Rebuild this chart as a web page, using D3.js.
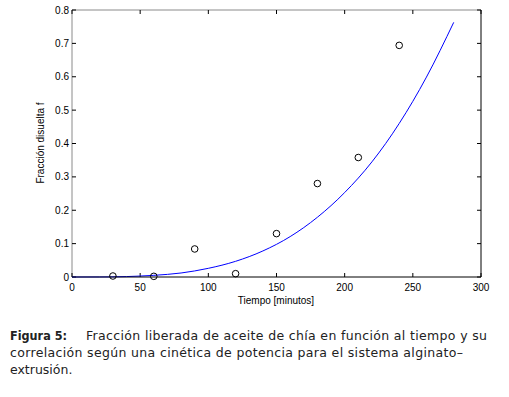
<!DOCTYPE html>
<html>
<head>
<meta charset="utf-8">
<script src="https://cdn.jsdelivr.net/npm/d3@7"></script>
<style>
  body { margin: 0; background: #fff; }
</style>
</head>
<body>
<div id="chart"></div>
<script>
// measured points (tiempo, fraccion)
var tiempo = [30, 60, 90, 120, 150, 180, 210, 240]
var fraccion = [0.003, 0.002, 0.084, 0.010, 0.130, 0.280, 0.358, 0.694]

// fitted curve
var curvaT = [0, 20, 40, 50, 60, 80, 100, 120, 140, 160, 180, 200, 220, 240, 260, 280]
var curvaF = [0, 0.0001, 0.0013, 0.0028, 0.005, 0.012, 0.026, 0.047, 0.078, 0.121, 0.179, 0.253, 0.345, 0.460, 0.599, 0.763]

var xTicks = [0, 50, 100, 150, 200, 250, 300]
var yTicks = [0, 0.1, 0.2, 0.3, 0.4, 0.5, 0.6, 0.7, 0.8]

var width = 509
    height = 397
    margin = {left: 72, right: 28, top: 10, bottom: 120}

var svg = d3.select("#chart")
            .append("svg")
            .attr("width", width)
            .attr("height", height)

var x = d3.scaleLinear().domain([0, 300]).range([margin.left, 481])
var y = d3.scaleLinear().domain([0, 0.8]).range([277, margin.top])

var font = "Liberation Sans, Arial, sans-serif"

// box
svg.append("line").attr("x1", x(0)).attr("x2", x(300)).attr("y1", y(0.8)).attr("y2", y(0.8))
   .attr("stroke", "#8a8a8a")
svg.append("line").attr("x1", x(0)).attr("x2", x(0)).attr("y1", y(0)).attr("y2", y(0.8))
   .attr("stroke", "#8a8a8a")

// ticks inside on all sides
xTicks.forEach(function(t) {
  svg.append("line").attr("x1", x(t)).attr("x2", x(t)).attr("y1", y(0)).attr("y2", y(0) - 4)
     .attr("stroke", "#000")
  svg.append("line").attr("x1", x(t)).attr("x2", x(t)).attr("y1", y(0.8)).attr("y2", y(0.8) + 4)
     .attr("stroke", "#000")
  svg.append("text").attr("x", x(t)).attr("y", y(0) + 14)
     .attr("text-anchor", "middle").attr("font-family", font).attr("font-size", "10px")
     .attr("fill", "#000").text(t)
})
yTicks.forEach(function(t) {
  svg.append("line").attr("x1", x(0)).attr("x2", x(0) + 4).attr("y1", y(t)).attr("y2", y(t))
     .attr("stroke", "#000")
  svg.append("line").attr("x1", x(300)).attr("x2", x(300) - 4).attr("y1", y(t)).attr("y2", y(t))
     .attr("stroke", "#000")
  svg.append("text").attr("x", x(0) - 3).attr("y", y(t) + 3.5)
     .attr("text-anchor", "end").attr("font-family", font).attr("font-size", "10px")
     .attr("fill", "#000").text(t === 0 ? "0" : d3.format(".1f")(t))
})

// curve
var line = d3.line()
             .x(function(d, i) { return x(curvaT[i]) })
             .y(function(d) { return y(d) })
             .curve(d3.curveMonotoneX)

svg.append("path")
   .datum(curvaF)
   .attr("d", line)
   .attr("fill", "none")
   .attr("stroke", "#0000ff")
   .attr("stroke-width", 1)

// bottom / right axis lines (black)
svg.append("line").attr("x1", x(0)).attr("x2", x(300)).attr("y1", y(0)).attr("y2", y(0))
   .attr("stroke", "#000")
svg.append("line").attr("x1", x(300)).attr("x2", x(300)).attr("y1", y(0)).attr("y2", y(0.8))
   .attr("stroke", "#000")

// markers
svg.selectAll(".pt")
   .data(fraccion)
   .enter().append("circle")
   .attr("class", "pt")
   .attr("cx", function(d, i) { return x(tiempo[i]) })
   .attr("cy", function(d) { return y(d) })
   .attr("r", 3.3)
   .attr("fill", "none")
   .attr("stroke", "#000")
   .attr("stroke-width", 1)

// axis labels
svg.append("text").attr("x", 276).attr("y", 304)
   .attr("text-anchor", "middle").attr("font-family", font).attr("font-size", "10px")
   .attr("fill", "#000").text("Tiempo [minutos]")

svg.append("text")
   .attr("transform", "translate(44,143) rotate(-90)")
   .attr("text-anchor", "middle").attr("font-family", font).attr("font-size", "10px")
   .attr("fill", "#000").text("Fracción disuelta f")

// caption
var cap = svg.append("g").attr("font-family", "DejaVu Sans, sans-serif").attr("font-size", "12.5px")
             .attr("fill", "#222")
cap.append("text").attr("x", 10).attr("y", 340)
   .attr("font-weight", "bold").attr("textLength", 57).attr("lengthAdjust", "spacingAndGlyphs")
   .text("Figura 5:")
cap.append("text").attr("x", 86).attr("y", 340)
   .attr("textLength", 401).attr("lengthAdjust", "spacing")
   .text("Fracción liberada de aceite de chía en función al tiempo y su")
cap.append("text").attr("x", 10).attr("y", 357)
   .attr("textLength", 453).attr("lengthAdjust", "spacing")
   .text("correlación según una cinética de potencia para el sistema alginato–")
cap.append("text").attr("x", 10).attr("y", 374)
   .text("extrusión.")
</script>
</body>
</html>
